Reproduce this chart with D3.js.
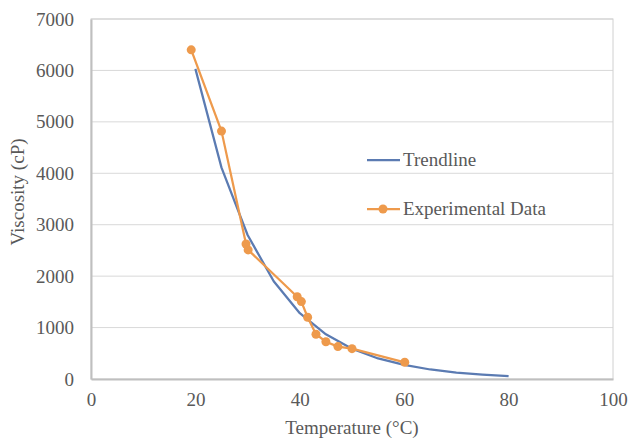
<!DOCTYPE html>
<html>
<head>
<meta charset="utf-8">
<script src="https://cdn.jsdelivr.net/npm/d3@7"></script>
<style>
  body { margin: 0; background: #fff; }
  svg text { font-family: "Liberation Serif", "Times New Roman", serif; fill: #595959; }
</style>
</head>
<body>
<svg id="chart" width="630" height="439"></svg>
<script>
// trendline computed every 5 degrees
const trendTemp = [20, 25, 30, 35, 40, 45, 50, 55, 60, 65, 70, 75, 80];
const trendVisc = [6030, 4110, 2800, 1900, 1280, 870, 590, 400, 275, 185, 125, 85, 55];

const expTemp = [19.2, 25, 29.7, 30.1, 39.5, 40.3, 41.5, 43.1, 45, 47.3, 50, 60.1];
const expVisc = [6400, 4820, 2625, 2510, 1600, 1505, 1200, 870, 725, 630, 590, 325];

const xTicks = [0, 20, 40, 60, 80, 100];
const yTicks = [0, 1000, 2000, 3000, 4000, 5000, 6000, 7000];

const seriesNames = ['Trendline', 'Experimental Data'];
const colors = {trend: '#5b7bb2', exp: '#ee9a4c'};

const margin = {top: 19, right: 17, bottom: 60, left: 91};
const svg = d3.select('#chart');
const width = +svg.attr('width') - margin.left - margin.right;
const height = +svg.attr('height') - margin.top - margin.bottom;
const g = svg.append('g').attr('transform', `translate(${margin.left},${margin.top})`);

const x = d3.scaleLinear().domain([0, 100]).range([0, width]);
const y = d3.scaleLinear().domain([0, 7000]).range([height, 0]);

// gridlines
g.append('g').selectAll('line').data(yTicks.slice(1)).join('line')
  .attr('x1', 0).attr('x2', width)
  .attr('y1', d => y(d)).attr('y2', d => y(d))
  .attr('stroke', '#d9d9d9').attr('stroke-width', 1);

// plot frame
g.append('rect').attr('x', 0).attr('y', 0).attr('width', width).attr('height', height)
  .attr('fill', 'none').attr('stroke', '#d0d0d0').attr('stroke-width', 1);

const xAxis = g.append('g').attr('transform', `translate(0,${height})`)
  .call(d3.axisBottom(x).tickValues(xTicks).tickSize(0).tickPadding(14));
const yAxis = g.append('g')
  .call(d3.axisLeft(y).tickValues(yTicks).tickSize(0).tickPadding(17).tickFormat(d3.format('d')));
[xAxis, yAxis].forEach(a => {
  a.select('.domain').attr('stroke', '#bfbfbf').attr('stroke-width', 2);
  a.selectAll('text').attr('font-size', 19).attr('fill', '#595959')
    .attr('font-family', '"Liberation Serif", serif');
});
xAxis.selectAll('text').attr('dy', '0.71em');

// trendline
const trendData = trendTemp.map((t, i) => ({t, v: trendVisc[i]}));
const expData = expTemp.map((t, i) => ({t, v: expVisc[i]}));
const line = d3.line().x(d => x(d.t)).y(d => y(d.v));

g.append('path').datum(trendData)
  .attr('fill', 'none').attr('stroke', colors.trend).attr('stroke-width', 2.25)
  .attr('stroke-linejoin', 'round').attr('d', line);

g.append('path').datum(expData)
  .attr('fill', 'none').attr('stroke', colors.exp).attr('stroke-width', 2.25)
  .attr('stroke-linejoin', 'round').attr('d', line);

g.append('g').selectAll('circle').data(expData).join('circle')
  .attr('cx', d => x(d.t)).attr('cy', d => y(d.v)).attr('r', 4.5)
  .attr('fill', colors.exp);

// axis titles
svg.append('text').attr('x', 352).attr('y', 434).attr('text-anchor', 'middle')
  .attr('font-size', 19).text('Temperature (°C)');
svg.append('text').attr('transform', 'translate(24,192) rotate(-90)')
  .attr('text-anchor', 'middle').attr('font-size', 19).text('Viscosity (cP)');

// legend
const legend = svg.append('g').attr('transform', 'translate(367,160)');
const items = legend.selectAll('g').data(seriesNames).join('g')
  .attr('transform', (d, i) => `translate(0,${i * 49})`);
items.append('line').attr('x1', 0).attr('x2', 33).attr('y1', 0).attr('y2', 0)
  .attr('stroke', (d, i) => i === 0 ? colors.trend : colors.exp).attr('stroke-width', 2.25);
items.filter((d, i) => i === 1).append('circle').attr('cx', 16).attr('cy', 0).attr('r', 4.5)
  .attr('fill', colors.exp);
items.append('text').attr('x', 36).attr('y', 0).attr('dy', '0.33em')
  .attr('font-size', 19).text(d => d);
</script>
</body>
</html>
